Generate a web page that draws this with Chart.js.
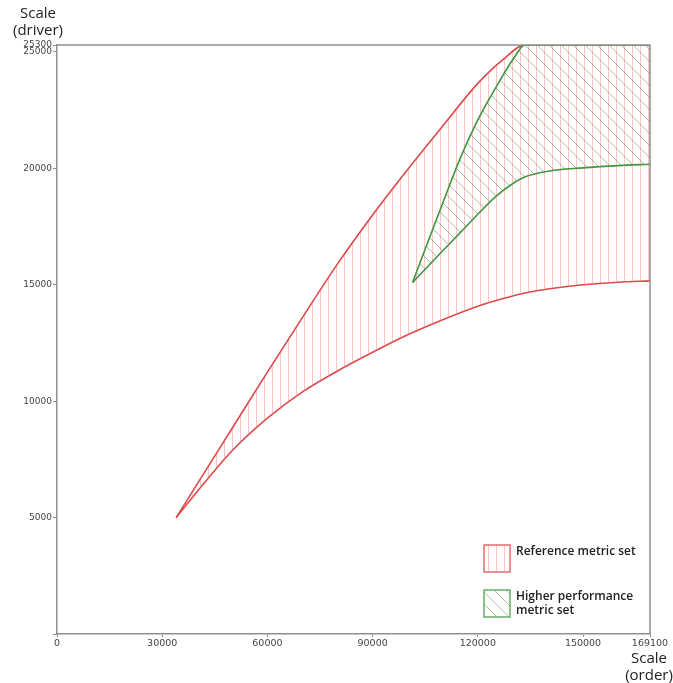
<!DOCTYPE html>
<html>
<head>
<meta charset="utf-8">
<script src="https://cdn.jsdelivr.net/npm/chart.js@4"></script>
<style>
html, body { margin: 0; padding: 0; background: #fff; }
</style>
</head>
<body>
<canvas id="grafik" width="673" height="683"></canvas>
<script>
// Data kurva
const xRed = [34000, 40000, 50000, 60000, 70000, 80000, 90000, 100000, 110000, 120000, 127000, 133500, 140000, 150000, 160000, 169100];
const redUpper = [5000, 6450, 8850, 11250, 13600, 15900, 18000, 19950, 21820, 23650, 24650, 25300, 25300, 25300, 25300, 25300];
const redLower = [5000, 6120, 7880, 9270, 10400, 11300, 12100, 12850, 13500, 14080, 14400, 14650, 14820, 15000, 15110, 15170];

const xGreen = [101400, 105000, 110000, 115000, 120000, 125000, 130000, 133500, 140000, 150000, 160000, 169100];
const greenUpper = [15100, 16540, 18510, 20440, 22080, 23440, 24680, 25300, 25300, 25300, 25300, 25300];
const greenLower = [15100, 15670, 16460, 17240, 18030, 18780, 19350, 19640, 19880, 20020, 20120, 20180];

const xTicks = [0, 30000, 60000, 90000, 120000, 150000, 169100];
const yTicks = [0, 5000, 10000, 15000, 20000, 25000, 25300];

const legendLabels = [['Reference metric set'], ['Higher performance', 'metric set']];

const RED = 'rgb(222, 72, 72)';
const GREEN = 'rgb(62, 150, 62)';
const AXIS = '#8f8f8f';

const canvas = document.getElementById('grafik');
const ctx = canvas.getContext('2d');

// Pola arsir
function hatchVertical(color, gap) {
    const c = document.createElement('canvas');
    c.width = gap; c.height = gap;
    const g = c.getContext('2d');
    g.strokeStyle = color;
    g.lineWidth = 1;
    g.beginPath();
    g.moveTo(0.5, 0);
    g.lineTo(0.5, gap);
    g.stroke();
    return ctx.createPattern(c, 'repeat');
}

function hatchDiagonal(color, gap) {
    const c = document.createElement('canvas');
    c.width = gap; c.height = gap;
    const g = c.getContext('2d');
    g.strokeStyle = color;
    g.lineWidth = 1;
    g.beginPath();
    for (let k = -1; k <= 1; k++) {
        g.moveTo(0, k * gap);
        g.lineTo(gap, gap + k * gap);
    }
    g.stroke();
    return ctx.createPattern(c, 'repeat');
}

const redHatch = hatchVertical('rgba(238, 140, 140, 0.5)', 8);
const greenHatch = hatchDiagonal('rgba(120, 150, 110, 0.6)', 12);

const toPoints = (xs, ys) => xs.map((x, i) => ({ x: x, y: ys[i] }));

// Bingkai, judul sumbu, legenda
const dekorasi = {
    id: 'dekorasi',
    afterDraw(chart) {
        const c = chart.ctx;
        const a = chart.chartArea;
        c.save();

        c.strokeStyle = AXIS;
        c.lineWidth = 1.5;
        c.beginPath();
        c.moveTo(a.left, a.top);
        c.lineTo(a.right, a.top);
        c.lineTo(a.right, a.bottom);
        c.stroke();

        c.fillStyle = '#222';
        c.font = '15px "Open Sans"';
        c.textAlign = 'center';
        c.textBaseline = 'middle';
        c.fillText('Scale', 38, 14);
        c.fillText('(driver)', 38, 31);
        c.fillText('Scale', 649, 659);
        c.fillText('(order)', 649, 676);

        const boxes = [
            { y: 545, stroke: 'rgb(226, 110, 110)', fill: redHatch },
            { y: 590, stroke: 'rgb(100, 175, 100)', fill: greenHatch }
        ];
        c.font = '600 12px "Open Sans"';
        c.textAlign = 'left';
        boxes.forEach((b, i) => {
            c.fillStyle = b.fill;
            c.fillRect(484, b.y, 26, 27);
            c.strokeStyle = b.stroke;
            c.lineWidth = 1.5;
            c.strokeRect(484, b.y, 26, 27);
            c.fillStyle = '#222';
            legendLabels[i].forEach((t, j) => {
                c.fillText(t, 516, b.y + 7 + j * 14);
            });
        });
        c.restore();
    }
};

new Chart(ctx, {
    type: 'line',
    data: {
        datasets: [
            {
                data: toPoints(xGreen, greenUpper),
                borderColor: GREEN,
                borderWidth: 1.6,
                backgroundColor: greenHatch,
                fill: '+1',
                order: 1
            },
            {
                data: toPoints(xGreen, greenLower),
                borderColor: GREEN,
                borderWidth: 1.6,
                fill: false,
                order: 1
            },
            {
                data: toPoints(xRed, redUpper),
                borderColor: RED,
                borderWidth: 1.6,
                backgroundColor: redHatch,
                fill: '+1',
                order: 2
            },
            {
                data: toPoints(xRed, redLower),
                borderColor: RED,
                borderWidth: 1.6,
                fill: false,
                order: 2
            }
        ]
    },
    options: {
        responsive: false,
        animation: false,
        elements: {
            point: { radius: 0 },
            line: { cubicInterpolationMode: 'monotone' }
        },
        layout: { padding: { top: 45, right: 23, left: 0, bottom: 0 } },
        plugins: {
            legend: { display: false },
            tooltip: { enabled: false }
        },
        scales: {
            x: {
                type: 'linear',
                min: 0,
                max: 169100,
                afterBuildTicks: function(scale) {
                    scale.ticks = xTicks.map(v => ({ value: v }));
                },
                afterFit: function(scale) {
                    scale.height = 49;
                },
                grid: { drawOnChartArea: false, tickLength: 3, color: AXIS },
                border: { color: AXIS, width: 1.5 },
                ticks: {
                    autoSkip: false,
                    maxRotation: 0,
                    padding: 1,
                    color: '#444',
                    font: { family: 'DejaVu Sans', size: 9.5 },
                    callback: function(value) { return String(value); }
                }
            },
            y: {
                type: 'linear',
                min: 0,
                max: 25300,
                afterBuildTicks: function(scale) {
                    scale.ticks = yTicks.map(v => ({ value: v }));
                },
                afterFit: function(scale) {
                    scale.width = 57;
                },
                grid: { drawOnChartArea: false, tickLength: 4, color: AXIS },
                border: { color: AXIS, width: 1.5 },
                ticks: {
                    autoSkip: false,
                    padding: 1,
                    color: '#444',
                    font: { family: 'DejaVu Sans', size: 9 },
                    callback: function(value) { return value === 0 ? '' : String(value); }
                }
            }
        }
    },
    plugins: [dekorasi]
});
</script>
</body>
</html>
